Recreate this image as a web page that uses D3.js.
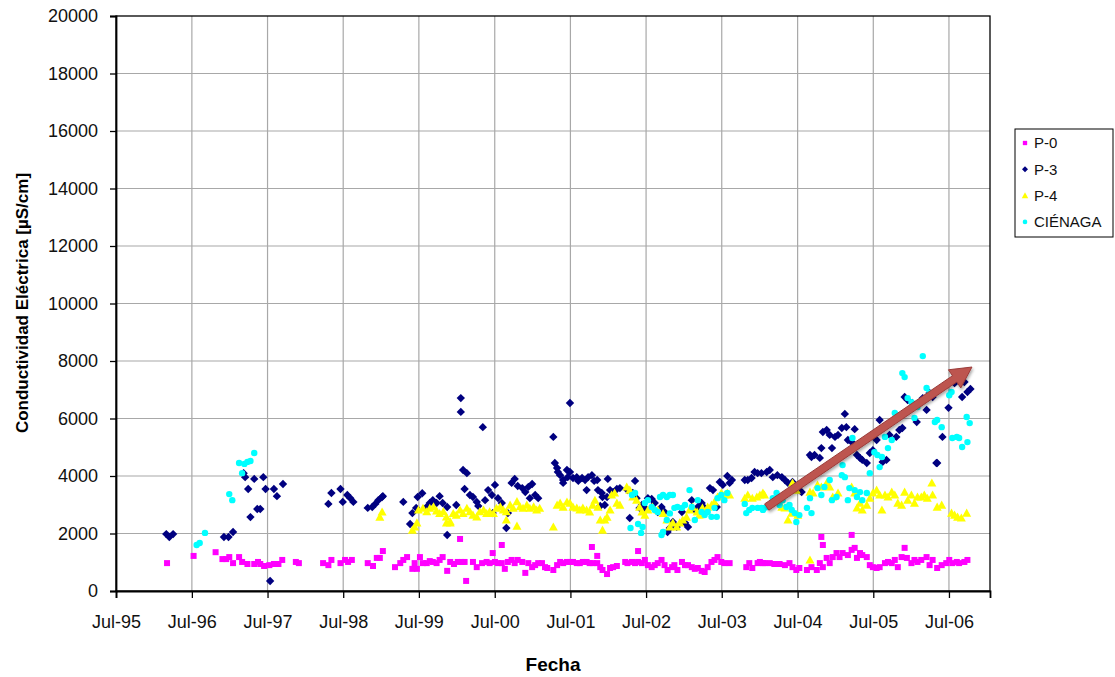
<!DOCTYPE html>
<html><head><meta charset="utf-8">
<script src="https://cdn.jsdelivr.net/npm/d3@7"></script>
<style>
body{margin:0;background:#fff;}
svg{display:block;font-family:"Liberation Sans",Arial,Helvetica,sans-serif;}
</style>
</head><body>
<svg id="chart" width="1115" height="677"></svg>
<script>
// ---------- data (decimal year, µS/cm) ----------
const seriesNames = ["P-0", "P-3", "P-4", "CIÉNAGA"];
const yTickValues = [0, 2000, 4000, 6000, 8000, 10000, 12000, 14000, 16000, 18000, 20000];
const xTickYears = [1995, 1996, 1997, 1998, 1999, 2000, 2001, 2002, 2003, 2004, 2005, 2006];
const xTickLabels = ["Jul-95","Jul-96","Jul-97","Jul-98","Jul-99","Jul-00","Jul-01","Jul-02","Jul-03","Jul-04","Jul-05","Jul-06"];

const p0 = [
[1996.17,970],[1996.52,1220],[1996.81,1350],[1996.90,1110],[1996.95,1110],[1996.99,1180],[1997.04,970],[1997.12,1180],[1997.16,1010],[1997.23,940],[1997.32,940],[1997.37,1010],[1997.40,940],[1997.45,870],[1997.52,900],[1997.58,940],[1997.64,940],[1997.69,1080],[1997.87,1010],[1997.91,970],[1998.23,970],[1998.30,900],[1998.34,1080],
[1998.46,970],[1998.52,1080],[1998.56,1010],[1998.61,1080],[1998.82,970],[1998.89,870],[1998.94,1150],[1998.98,1150],[1999.02,1390],[1999.18,830],[1999.25,970],[1999.29,1080],[1999.34,1180],
[1999.41,770],[1999.44,970],[1999.47,770],[1999.51,1180],[1999.55,970],[1999.60,970],[1999.64,1040],[1999.68,1010],[1999.73,970],[1999.77,1080],[1999.81,1180],[1999.87,700],[1999.91,1010],[1999.96,940],[2000.01,1010],[2000.06,1010],[2000.10,1010],[2000.04,1810],[2000.12,350],
[2000.21,1010],[2000.26,830],[2000.33,970],[2000.39,1010],[2000.43,970],[2000.47,1320],[2000.50,1010],[2000.54,970],[2000.59,970],[2000.59,1600],[2000.63,770],[2000.67,1010],[2000.72,1080],[2000.76,970],[2000.80,1080],[2000.86,1010],[2000.90,630],[2000.94,970],[2000.99,830],[2001.03,900],[2001.07,970],[2001.12,970],[2001.16,830],
[2001.19,800],[2001.27,730],[2001.32,900],[2001.36,1010],[2001.40,970],[2001.45,1010],[2001.49,1010],[2001.53,1010],[2001.58,970],[2001.62,970],[2001.66,1010],[2001.71,1010],[2001.75,970],[2001.78,1530],[2001.79,970],[2001.85,970],[2001.85,1220],[2001.89,830],[2001.92,730],[2001.98,590],[2002.02,800],[2002.06,830],[2002.11,870],
[2002.22,1010],[2002.25,970],[2002.31,1010],[2002.35,970],[2002.39,1010],[2002.39,1390],[2002.44,970],[2002.48,1080],[2002.52,900],[2002.57,830],[2002.61,900],[2002.65,970],[2002.70,1080],[2002.74,900],[2002.78,730],[2002.84,830],[2002.87,900],[2002.91,730],[2002.97,1010],[2003.01,900],[2003.05,900],[2003.10,830],[2003.14,770],[2003.18,800],[2003.23,700],[2003.27,660],[2003.31,830],[2003.36,1010],[2003.40,1080],[2003.44,1180],[2003.49,1010],[2003.53,970],[2003.60,970],
[2003.82,830],[2003.86,970],[2003.90,800],[2003.97,970],[2004.00,1010],[2004.04,970],[2004.06,970],[2004.13,970],[2004.19,940],[2004.26,940],[2004.33,900],[2004.39,970],[2004.43,830],[2004.48,730],[2004.52,800],
[2004.62,730],[2004.68,830],[2004.75,730],[2004.79,970],[2004.81,1880],[2004.83,830],[2004.83,1600],[2004.88,1150],[2004.92,970],[2004.96,1180],[2005.01,1320],[2005.05,1180],[2005.09,1320],[2005.16,1250],[2005.21,1430],[2005.21,1950],[2005.25,1500],[2005.28,1150],[2005.32,1320],[2005.35,1250],[2005.41,1180],[2005.45,900],[2005.49,830],[2005.54,800],[2005.58,830],[2005.65,970],[2005.69,1010],[2005.74,970],[2005.78,1080],[2005.82,830],[2005.87,1180],[2005.91,1500],[2005.94,1150],[2006.00,970],[2006.04,1080],[2006.08,1010],[2006.13,1080],[2006.20,1180],[2006.24,900],[2006.28,1080],[2006.34,800],[2006.40,900],[2006.46,970],[2006.50,1080],[2006.54,970],[2006.60,1010],[2006.63,970],[2006.70,1010],[2006.74,1080]
];

const p3 = [
[1996.16,1980],[1996.20,1880],[1996.25,1980],[1996.92,1880],[1996.98,1880],[1997.04,2050],
[1997.18,4100],[1997.20,3960],[1997.24,3550],[1997.27,2570],[1997.32,3900],[1997.36,2850],[1997.40,2850],[1997.44,3960],[1997.47,3550],[1997.53,350],[1997.58,3550],[1997.62,3300],[1997.70,3720],
[1998.30,3030],[1998.34,3410],[1998.46,3550],[1998.49,3100],[1998.55,3340],[1998.59,3230],[1998.63,3100],
[1998.82,2890],[1998.88,2920],[1998.92,3030],[1998.96,3160],[1999.01,3270],[1999.02,3300],
[1999.29,3100],[1999.38,2330],[1999.41,2710],[1999.46,2890],[1999.48,3270],[1999.54,3400],
[1999.60,2920],[1999.64,3060],[1999.68,3160],[1999.73,3060],[1999.77,3300],[1999.81,3060],[1999.87,2920],[1999.87,1950],[1999.99,2990],
[2000.05,6710],[2000.05,6230],[2000.08,4210],[2000.13,4100],[2000.10,3550],[2000.17,3340],[2000.21,3270],[2000.26,3100],[2000.28,2960],[2000.34,5700],
[2000.37,3160],[2000.41,3510],[2000.46,3340],[2000.47,2710],[2000.50,3690],[2000.54,3230],[2000.59,3060],[2000.65,2190],[2000.67,2710],
[2000.72,3760],[2000.76,3900],[2000.80,3650],[2000.86,3580],[2000.90,3440],[2000.94,3620],[2000.96,3230],[2000.99,3720],[2001.03,3340],[2001.07,3230],
[2001.27,5360],[2001.29,4450],[2001.32,4280],[2001.33,4140],[2001.36,4030],[2001.40,3860],[2001.40,3760],[2001.45,4210],[2001.46,3960],[2001.49,4140],[2001.49,6540],
[2001.53,3930],[2001.58,3960],[2001.60,3830],[2001.65,3930],[2001.69,3860],[2001.71,3510],[2001.73,3960],[2001.78,4030],[2001.81,3830],[2001.85,3860],
[2001.86,3510],[2001.89,2960],[2001.91,3410],[2001.92,3270],[2001.95,2990],[2001.98,3270],[2001.99,3900],[2002.02,3510],[2002.06,3440],[2002.11,3550],[2002.15,3580],
[2002.25,3510],[2002.28,2540],[2002.32,3410],[2002.35,3830],[2002.37,3230],[2002.41,2890],[2002.44,2990],[2002.48,2890],
[2002.52,3230],[2002.57,3200],[2002.61,3060],[2002.65,2750],[2002.70,2920],[2002.74,2750],[2002.78,2050],[2002.81,2190],[2002.85,2400],[2002.90,2230],[2002.97,2750],[2003.01,2370],[2003.05,2230],[2003.10,3160],[2003.14,2820],[2003.18,2920],[2003.23,3060],[2003.27,2890],[2003.34,3580],[2003.38,3510],[2003.43,2920],[2003.47,3790],[2003.51,3690],[2003.57,4000],[2003.60,3760],[2003.63,3860],
[2003.80,3860],[2003.84,3860],[2003.89,3930],[2003.93,4140],[2003.97,4100],[2004.02,4100],
[2004.09,4140],[2004.13,4210],[2004.17,3960],[2004.23,4030],[2004.29,3960],[2004.33,3860],[2004.37,3760],[2004.43,3790],[2004.48,3620],[2004.52,3510],[2004.55,3440],
[2004.66,4730],[2004.68,4660],[2004.72,4730],[2004.79,4630],
[2004.81,4970],[2004.83,5530],[2004.88,5600],[2004.92,5430],[2004.95,4970],[2004.99,5360],[2005.03,5430],[2005.08,5670],[2005.12,6160],[2005.14,5700],[2005.16,5250],[2005.21,5180],[2005.25,5630],
[2005.28,4730],[2005.32,4630],[2005.35,4560],[2005.41,4450],[2005.45,4800],[2005.49,4900],[2005.54,5250],[2005.58,5950],[2005.62,4490],[2005.67,4560],[2005.71,5430],[2005.80,5360],[2005.84,5600],[2005.88,5670],[2005.91,6750],[2005.95,6640],[2006.01,6540],[2006.07,5880],[2006.11,6570],[2006.15,6710],[2006.20,6300],[2006.24,6890],[2006.28,6750],
[2006.33,4450],[2006.34,4450],[2006.41,5360],[2006.49,6370],[2006.57,7230],[2006.61,7340],[2006.67,6750],[2006.70,7270],[2006.74,6920],[2006.78,7030]
];

const p4 = [
[1998.98,2570],[1999.01,2750],[1999.41,2120],[1999.44,2230],[1999.47,2370],
[1999.49,2820],[1999.55,2880],[1999.60,2760],[1999.64,2880],[1999.69,2930],[1999.73,2790],[1999.77,2700],[1999.82,2760],[1999.86,2580],[1999.86,2370],[1999.91,2410],[1999.91,2370],[1999.95,2700],[1999.99,2640],[2000.04,2820],[2000.08,2700],[2000.13,2880],[2000.17,2760],[2000.21,2640],[2000.26,2580],[2000.30,2760],[2000.35,2820],[2000.39,2700],[2000.43,2760],[2000.48,2700],[2000.52,2880],[2000.57,2930],[2000.61,2820],[2000.65,2760],[2000.65,2470],[2000.70,2990],[2000.74,2880],[2000.79,3110],[2000.79,2260],[2000.83,2930],[2000.87,2880],[2000.92,2990],[2000.96,2880],[2001.01,2930],[2001.05,2820],[2001.09,2880],
[2001.27,2230],[2001.32,2990],[2001.36,3060],[2001.40,2920],[2001.45,3100],[2001.49,3060],[2001.53,2920],[2001.58,2890],[2001.62,2820],[2001.66,2890],[2001.71,2820],[2001.75,2750],[2001.79,2990],[2001.82,3160],[2001.86,2920],[2001.89,2470],[2001.92,2120],[2001.95,2470],[2001.98,2570],[2002.02,2820],[2002.04,3340],[2002.08,3410],[2002.11,3060],[2002.15,2990],
[2002.24,3620],[2002.28,3510],[2002.32,3270],[2002.37,3160],[2002.41,2920],[2002.44,2750],[2002.48,2640],[2002.52,2820],[2002.58,2920],[2002.65,2820],[2002.72,2700],[2002.77,2470],[2002.81,2230],[2002.85,2370],[2002.90,2230],[2002.94,2370],[2002.98,2470],[2003.03,2570],[2003.07,2820],[2003.11,2920],[2003.17,2750],[2003.20,2640],[2003.24,2890],[2003.31,2920],[2003.36,2990],[2003.40,3100],[2003.44,3270],[2003.49,3410],[2003.53,3340],[2003.57,3410],[2003.60,3340],
[2003.80,3230],[2003.84,3340],[2003.90,3230],[2003.96,3270],[2004.00,3340],[2004.04,3410],[2004.06,3340],
[2004.29,2920],[2004.33,2890],[2004.37,2470],[2004.42,2710],[2004.43,3760],[2004.48,3510],[2004.50,2640],[2004.66,1080],
[2004.66,3440],[2004.70,3410],[2004.76,3690],[2004.81,3620],[2004.88,3760],[2004.92,3620],[2004.96,3270],[2005.03,3410],[2005.21,3620],[2005.25,3410],[2005.28,2890],[2005.32,3060],[2005.35,2820],[2005.41,2990],[2005.45,3230],[2005.49,3410],[2005.54,3510],[2005.58,3340],[2005.61,2820],[2005.65,3340],[2005.69,3270],[2005.74,3440],[2005.78,3340],[2005.82,3060],[2005.87,2990],[2005.91,3440],[2005.95,3160],[2006.00,3340],[2006.04,3060],[2006.08,3270],[2006.13,3270],[2006.17,3340],[2006.21,3230],[2006.27,3760],[2006.28,3340],[2006.34,2920],[2006.40,2990],[2006.53,2710],[2006.57,2640],[2006.61,2570],[2006.66,2540],[2006.73,2710]
];

const cienaga = [
[1996.56,1600],[1996.60,1670],[1996.67,2020],[1996.99,3370],[1997.03,3160],[1997.12,4450],[1997.16,4100],[1997.19,4420],[1997.23,4490],[1997.27,4520],[1997.32,4800],
[2002.29,2190],[2002.31,3340],[2002.35,3410],[2002.39,2330],[2002.43,2020],[2002.45,2230],[2002.48,3060],[2002.52,3160],[2002.57,2920],[2002.61,2820],[2002.65,2750],[2002.68,3270],[2002.70,1950],[2002.72,3340],[2002.72,2050],[2002.77,3270],[2002.77,2470],[2002.81,3340],[2002.81,2700],[2002.85,3340],
[2002.87,2890],[2002.91,2920],[2002.97,2890],[2003.01,2990],[2003.07,3510],[2003.10,2920],[2003.14,2470],[2003.18,3160],[2003.23,2750],[2003.27,2640],[2003.31,2750],[2003.36,2580],[2003.40,2890],[2003.43,2580],[2003.44,3230],[2003.49,3340],[2003.53,3160],[2003.57,3410],
[2003.80,3030],[2003.82,2710],[2003.86,2820],[2003.90,2890],[2003.97,2890],[2004.02,2890],[2004.04,2820],[2004.06,2890],[2004.10,2920],[2004.17,3230],[2004.22,3410],[2004.26,2990],[2004.30,3160],[2004.35,2920],[2004.39,2990],[2004.42,2820],[2004.46,2710],[2004.48,2400],[2004.52,2640],
[2004.62,2890],[2004.66,3230],[2004.68,2710],[2004.76,3580],[2004.81,3340],[2004.85,3620],[2004.92,3860],[2004.95,3160],[2005.01,3270],[2005.08,4030],[2005.09,4380],[2005.12,3960],[2005.16,3160],[2005.18,3580],[2005.22,5320],[2005.25,3510],[2005.28,3270],[2005.32,3440],[2005.35,3160],[2005.41,3410],[2005.45,4100],[2005.51,4830],[2005.55,4730],[2005.58,4310],[2005.61,4660],[2005.65,5360],[2005.69,4970],[2005.74,5250],[2005.78,6190],[2005.88,7580],[2005.91,7440],[2005.95,6710],[2006.00,6570],[2006.04,6020],[2006.08,6400],[2006.15,8170],[2006.20,7060],[2006.24,6890],[2006.31,5880],[2006.34,5950],[2006.40,5700],[2006.50,6810],[2006.53,6920],[2006.54,5320],[2006.60,5360],[2006.63,5320],[2006.67,5010],[2006.73,6050],[2006.74,5180],[2006.77,5840]
];

// trend arrow annotation (decimal year, value)
const trendStart = [2004.09, 2920];
const trendEnd = [2006.80, 7790];

// ---------- drawing ----------
function dec(yf) {
  const yr = Math.floor(yf);
  const s = new Date(yr, 0, 1), e = new Date(yr + 1, 0, 1);
  return new Date(s.getTime() + (yf - yr) * (e - s));
}

const svg = d3.select("#chart");
const L = 116, R = 990, T = 16, B = 591;

const x = d3.scaleTime().domain([new Date(1995, 6, 1), new Date(2007, 0, 15)]).range([L, R]);
const y = d3.scaleLinear().domain([0, 20000]).range([B, T]);
const xTicks = xTickYears.map(yr => new Date(yr, 6, 1));

// gridlines
const grid = svg.append("g").attr("stroke", "#a8a8a8").attr("stroke-width", 1.2);
grid.selectAll("line.h").data(yTickValues.filter(v => v > 0 && v < 20000)).join("line")
  .attr("x1", L).attr("x2", R).attr("y1", d => y(d)).attr("y2", d => y(d));
grid.selectAll("line.v").data(xTicks.slice(1)).join("line")
  .attr("y1", T).attr("y2", B).attr("x1", d => x(d)).attr("x2", d => x(d));

// frame
svg.append("rect").attr("x", L).attr("y", T).attr("width", R - L).attr("height", B - T)
  .attr("fill", "none").attr("stroke", "#000").attr("stroke-width", 1.3);

// axes
const yAxis = d3.axisLeft(y).tickValues(yTickValues).tickSize(6).tickPadding(12).tickFormat(d3.format("d"));
const gy = svg.append("g").attr("transform", `translate(${L},0)`).call(yAxis);
const xAxis = d3.axisBottom(x).tickValues(xTicks).tickSize(7).tickPadding(17).tickFormat((d, i) => xTickLabels[i]);
const gx = svg.append("g").attr("transform", `translate(0,${B})`).call(xAxis);
[gx, gy].forEach(g => {
  g.select(".domain").attr("stroke", "#000").attr("stroke-width", 1.8);
  g.selectAll(".tick line").attr("stroke", "#000").attr("stroke-width", 1.3);
  g.selectAll(".tick text").attr("fill", "#111").style("font-size", "18px")
    .style("font-family", '"Liberation Sans",Arial,sans-serif');
});

// axis titles
svg.append("text").attr("transform", "translate(22,303) rotate(-90)").attr("text-anchor", "middle")
  .attr("dy", "0.35em").style("font-size", "17px").style("font-weight", "bold").text("Conductividad Eléctrica [µS/cm]");
svg.append("text").attr("x", 553).attr("y", 671).attr("text-anchor", "middle")
  .style("font-size", "19px").style("font-weight", "bold").text("Fecha");

// markers
const markers = {
  "P-0": { color: "#ff00ff", data: p0, path: s => `M${-s},${-s}H${s}V${s}H${-s}Z`, size: 3 },
  "P-3": { color: "#000080", data: p3, path: s => `M0,${-s}L${s},0L0,${s}L${-s},0Z`, size: 4.2 },
  "P-4": { color: "#ffff00", data: p4, path: s => `M0,${-s}L${s},${s * 0.8}L${-s},${s * 0.8}Z`, size: 4.5 },
  "CIÉNAGA": { color: "#00ffff", data: cienaga, path: s => d3.symbol(d3.symbolCircle, Math.PI * s * s)(), size: 3.2 }
};

seriesNames.forEach(name => {
  const m = markers[name];
  svg.append("g").selectAll("path").data(m.data).join("path")
    .attr("d", m.path(m.size))
    .attr("transform", d => `translate(${x(dec(d[0]))},${y(d[1])})`)
    .attr("fill", m.color);
});

// trend arrow
(function () {
  const p1 = [x(dec(trendStart[0])), y(trendStart[1])];
  const p2 = [x(dec(trendEnd[0])), y(trendEnd[1])];
  const dx = p2[0] - p1[0], dy = p2[1] - p1[1], len = Math.hypot(dx, dy);
  const u = [dx / len, dy / len], n = [-u[1], u[0]];
  const hw = 3.8, hh = 11, hl = 21;
  const b = [p2[0] - u[0] * hl, p2[1] - u[1] * hl];
  const pts = [
    [p1[0] + n[0] * hw, p1[1] + n[1] * hw],
    [b[0] + n[0] * hw, b[1] + n[1] * hw],
    [b[0] + n[0] * hh, b[1] + n[1] * hh],
    p2,
    [b[0] - n[0] * hh, b[1] - n[1] * hh],
    [b[0] - n[0] * hw, b[1] - n[1] * hw],
    [p1[0] - n[0] * hw, p1[1] - n[1] * hw]
  ];
  const defs = svg.append("defs");
  defs.append("filter").attr("id", "sh").attr("x", "-20%").attr("y", "-20%").attr("width", "140%").attr("height", "140%")
    .append("feDropShadow").attr("dx", 1).attr("dy", 2).attr("stdDeviation", 1.5).attr("flood-color", "#000").attr("flood-opacity", 0.35);
  svg.append("path").attr("d", "M" + pts.map(p => p.join(",")).join("L") + "Z")
    .attr("fill", "#bd5450").attr("stroke", "#9a3c39").attr("stroke-width", 1)
    .attr("filter", "url(#sh)");
})();

// legend
const lg = svg.append("g");
lg.append("rect").attr("x", 1015).attr("y", 129).attr("width", 98).attr("height", 108)
  .attr("fill", "#fff").attr("stroke", "#000").attr("stroke-width", 1);
seriesNames.forEach((name, i) => {
  const m = markers[name];
  const cy = 143 + i * 26.3;
  lg.append("path").attr("d", m.path(m.size * 0.72)).attr("transform", `translate(1025,${cy})`).attr("fill", m.color);
  lg.append("text").attr("x", 1034).attr("y", cy).attr("dy", "0.36em").style("font-size", "15px").attr("fill", "#111").text(name);
});
</script>
</body></html>
